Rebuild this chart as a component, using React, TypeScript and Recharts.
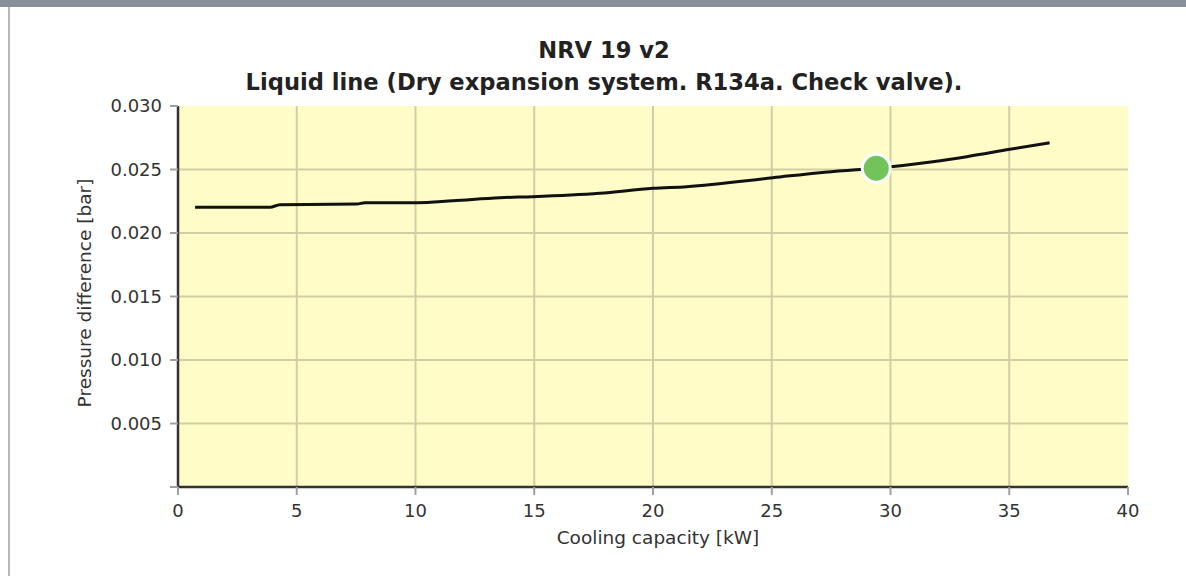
import React from "react";
import { LineChart, Line, XAxis, YAxis, CartesianGrid, ReferenceDot } from "recharts";

const capacity = [0.72, 3.87, 4.29, 7.53, 7.87, 10.05, 11.57, 13.55, 14.94, 17.76, 19.99, 21.42, 25.04, 27.02, 29.38, 31.78, 33.21, 35.02, 36.7];
const pressure = [0.02202, 0.02202, 0.02223, 0.02228, 0.02239, 0.02239, 0.02254, 0.02278, 0.02286, 0.02313, 0.02352, 0.02365, 0.02435, 0.02475, 0.02509, 0.02561, 0.02601, 0.02659, 0.02711];
const xTicks = [0, 5, 10, 15, 20, 25, 30, 35, 40];
const yTicks = [0, 0.005, 0.01, 0.015, 0.02, 0.025, 0.03];
const operatingPoint = { capacity: 29.4, pressure: 0.0251 };

const title1 = "NRV 19 v2";
const title2 = "Liquid line (Dry expansion system. R134a. Check valve).";
const xLabel = "Cooling capacity [kW]";
const yLabel = "Pressure difference [bar]";

const data = capacity.map((c, i) => ({ capacity: c, pressure: pressure[i] }));

const FONT = "'DejaVu Sans', Verdana, sans-serif";

export default function App() {
  return (
    <div style={{ position: "absolute", left: 0, top: 0, width: 1186, height: 576, background: "#ffffff", overflow: "hidden", fontFamily: FONT }}>
      <div style={{ position: "absolute", left: 0, top: 0, width: 1186, height: 7, background: "#878f98" }} />
      <div style={{ position: "absolute", left: 8, top: 7, width: 2, height: 569, background: "#b4b8bc" }} />
      <div style={{ position: "absolute", left: 0, top: 0 }}>
        <LineChart
          width={1186}
          height={576}
          data={data}
          margin={{ top: 106, right: 58, bottom: 39, left: 98 }}
        >
          <CartesianGrid
            fill="#fffcc7"
            stroke="#d2cda7"
            strokeWidth={2}
            horizontalValues={[0.005, 0.01, 0.015, 0.02, 0.025]}
            verticalValues={[5, 10, 15, 20, 25, 30, 35]}
          />
          <XAxis
            type="number"
            dataKey="capacity"
            domain={[0, 40]}
            ticks={xTicks}
            interval={0}
            height={50}
            tickSize={8}
            tickMargin={9}
            axisLine={{ stroke: "#333333", strokeWidth: 2.5 }}
            tickLine={{ stroke: "#a0a0a0", strokeWidth: 2 }}
            tick={{ fill: "#333333", fontSize: 18, fontFamily: FONT }}
          />
          <YAxis
            type="number"
            dataKey="pressure"
            domain={[0, 0.03]}
            ticks={yTicks}
            interval={0}
            width={80}
            tickSize={8}
            tickMargin={8}
            tickFormatter={(v: number) => (v === 0 ? "" : v.toFixed(3))}
            axisLine={{ stroke: "#333333", strokeWidth: 2.5 }}
            tickLine={{ stroke: "#a0a0a0", strokeWidth: 2 }}
            tick={{ fill: "#333333", fontSize: 18, fontFamily: FONT }}
          />
          <Line
            type="monotone"
            dataKey="pressure"
            stroke="#111111"
            strokeWidth={3}
            dot={false}
            activeDot={false}
            isAnimationActive={false}
          />
          <ReferenceDot
            x={operatingPoint.capacity}
            y={operatingPoint.pressure}
            r={14}
            fill="#72c35a"
            stroke="#ffffff"
            strokeWidth={3}
          />
        </LineChart>
      </div>
      <svg width={1186} height={576} style={{ position: "absolute", left: 0, top: 0, pointerEvents: "none" }}>
        <text x={604} y={58} textAnchor="middle" fontFamily={FONT} fontWeight="bold" fontSize={22.6} fill="#222222">{title1}</text>
        <text x={604} y={90} textAnchor="middle" fontFamily={FONT} fontWeight="bold" fontSize={22.6} fill="#222222">{title2}</text>
        <text x={658} y={544} textAnchor="middle" fontFamily={FONT} fontSize={18.5} fill="#333333">{xLabel}</text>
        <text x={0} y={0} transform="translate(91,293) rotate(-90)" textAnchor="middle" fontFamily={FONT} fontSize={18.5} fill="#333333">{yLabel}</text>
      </svg>
    </div>
  );
}
